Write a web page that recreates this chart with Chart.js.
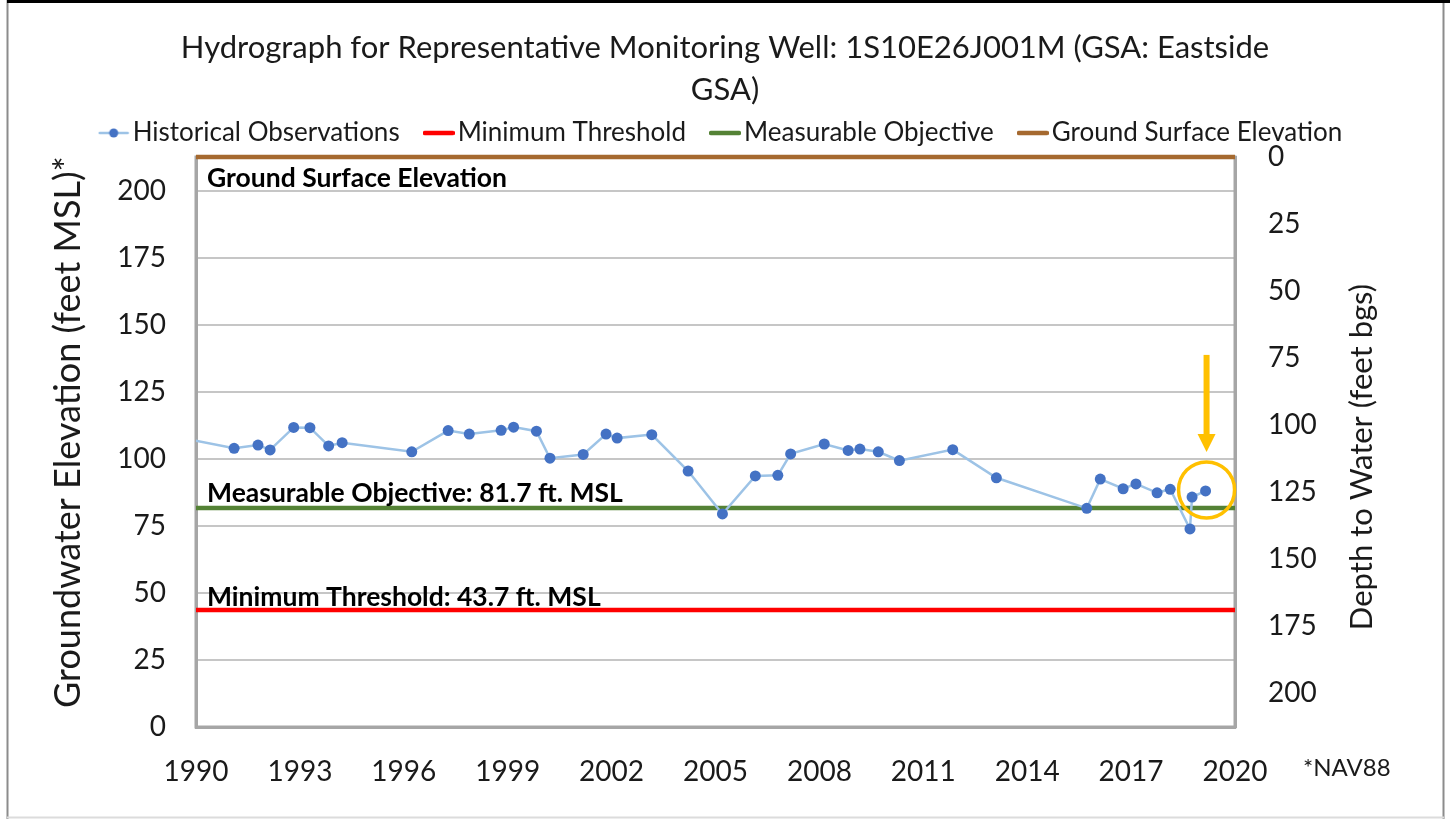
<!DOCTYPE html>
<html><head><meta charset="utf-8">
<script src="https://cdn.jsdelivr.net/npm/chart.js@4.4.1/dist/chart.umd.min.js"></script>
<style>html,body{margin:0;padding:0;background:#fff;}#wrap{width:1450px;height:819px;}</style>
</head><body><div id="wrap"><canvas id="c" width="1450" height="819"></canvas></div>
<script>
const obsYears = [1989.5, 1991.10, 1991.79, 1992.14, 1992.82, 1993.29, 1993.83, 1994.22, 1996.23, 1997.28, 1997.89, 1998.81, 1999.17, 1999.83, 2000.22, 2001.18, 2001.84, 2002.16, 2003.16, 2004.21, 2005.20, 2006.15, 2006.80, 2007.17, 2008.14, 2008.83, 2009.17, 2009.70, 2010.31, 2011.85, 2013.11, 2015.72, 2016.11, 2016.77, 2017.14, 2017.75, 2018.13, 2018.70, 2018.76, 2019.15];
const obsElev = [108.1, 104.0, 105.2, 103.4, 111.8, 111.7, 104.9, 106.1, 102.7, 110.6, 109.3, 110.7, 111.9, 110.4, 100.3, 101.7, 109.3, 107.8, 109.1, 95.5, 79.5, 93.7, 93.9, 101.9, 105.6, 103.2, 103.7, 102.7, 99.4, 103.5, 93.0, 81.6, 92.5, 88.9, 90.7, 87.4, 88.7, 73.9, 85.8, 88.1];
const refYears = [1990, 2020];
const minThreshold = [43.7, 43.7];
const measurableObjective = [81.7, 81.7];
const groundSurface = [212.7, 212.7];
const xTicks = [1990, 1993, 1996, 1999, 2002, 2005, 2008, 2011, 2014, 2017, 2020];
const elevTicks = [0, 25, 50, 75, 100, 125, 150, 175, 200];
const depthTicks = [0, 25, 50, 75, 100, 125, 150, 175, 200];
const seriesNames = ['Historical Observations', 'Minimum Threshold', 'Measurable Objective', 'Ground Surface Elevation'];
const titleLines = ['Hydrograph for Representative Monitoring Well: 1S10E26J001M (GSA: Eastside', 'GSA)'];
const labelGround = 'Ground Surface Elevation';
const labelMO = 'Measurable Objective: 81.7 ft. MSL';
const labelMT = 'Minimum Threshold: 43.7 ft. MSL';
const noteText = '*NAV88';
const leftTitle = 'Groundwater Elevation (feet MSL)*';
const rightTitle = 'Depth to Water (feet bgs)';

const FONT = 'Lato, "Open Sans", sans-serif';
const C_OBS_LINE = '#9DC3E6', C_OBS_PT = '#4472C4', C_MT = '#FF0000', C_MO = '#548235', C_GS = '#A5692F', C_TXT = '#1a1a1a', C_AXIS = '#A6A6A6', C_GRID = '#C6C6C6', C_HL = '#FFC000';

function pts(xs, ys){ return xs.map((x,i)=>({x, y: ys[i]})); }

function icon(color, withDot){
  const cv = document.createElement('canvas'); cv.width = 32; cv.height = 12;
  const g = cv.getContext('2d');
  g.strokeStyle = color; g.lineCap = 'round';
  g.lineWidth = withDot ? 2.5 : 4.5;
  g.beginPath(); g.moveTo(2, 6); g.lineTo(30, 6); g.stroke();
  if (withDot){ g.fillStyle = C_OBS_PT; g.beginPath(); g.arc(16, 6, 4.5, 0, Math.PI*2); g.fill(); }
  return cv;
}
const legendIcons = [icon(C_OBS_LINE, true), icon(C_MT), icon(C_MO), icon(C_GS)];

const legendPad = { id: 'legendPad', beforeUpdate(chart){ const lg = chart.legend; if (lg && !lg.__p){ const f = lg.fit; lg.fit = function(){ f.call(this); this.height += 1; }; lg.__p = true; } } };

const frame = { id: 'frame',
  beforeDraw(chart){ const g = chart.ctx; g.save(); g.fillStyle = '#fff'; g.fillRect(0,0,chart.width,chart.height);
    g.strokeStyle = '#8c8c8c'; g.lineWidth = 2;
    g.beginPath(); g.moveTo(7.5,0); g.lineTo(7.5,819); g.moveTo(1443.5,0); g.lineTo(1443.5,819); g.stroke();
    g.strokeStyle = '#dcdcdc'; g.beginPath(); g.moveTo(7,817.5); g.lineTo(1444,817.5); g.stroke();
    g.strokeStyle = '#000'; g.lineWidth = 3; g.beginPath(); g.moveTo(7,1.5); g.lineTo(1450,1.5); g.stroke();
    g.restore(); },
  beforeDatasetsDraw(chart){ const a = chart.chartArea, g = chart.ctx; g.save(); g.strokeStyle = C_AXIS; g.lineWidth = 3; g.strokeRect(a.left, a.top, a.right-a.left, a.bottom-a.top); g.restore(); },
  afterDatasetsDraw(chart){
    const g = chart.ctx, a = chart.chartArea, xs = chart.scales.x, ys = chart.scales.y;
    g.save(); g.fillStyle = '#000'; g.font = 'bold 26.5px ' + FONT; g.textBaseline = 'alphabetic'; g.textAlign = 'left';
    g.fillText(labelGround, a.left + 11, a.top + 30);
    g.fillText(labelMO, a.left + 11, ys.getPixelForValue(measurableObjective[0]) - 6);
    g.fillText(labelMT, a.left + 11, ys.getPixelForValue(minThreshold[0]) - 4);
    const n = obsYears.length - 1;
    const cx = xs.getPixelForValue(obsYears[n]) + 1, cy = ys.getPixelForValue(obsElev[n]) - 1;
    g.strokeStyle = C_HL; g.lineWidth = 3.5; g.beginPath(); g.arc(cx, cy, 28, 0, Math.PI*2); g.stroke();
    const tip = cy - 38;
    g.fillStyle = C_HL; g.fillRect(cx - 3, tip - 97, 6, 80);
    g.beginPath(); g.moveTo(cx - 9, tip - 18); g.lineTo(cx + 9, tip - 18); g.lineTo(cx, tip); g.closePath(); g.fill();
    g.fillStyle = C_TXT; g.font = '24px ' + FONT; g.textBaseline = 'middle';
    g.fillText(noteText, 1303, 768);
    g.textAlign = 'center';
    g.save(); g.translate(68, 432); g.rotate(-Math.PI/2); g.font = '36px ' + FONT; g.fillText(leftTitle, 0, 0); g.restore();
    g.save(); g.translate(1362, 457); g.rotate(-Math.PI/2); g.font = '31px ' + FONT; g.fillText(rightTitle, 0, 0); g.restore();
    g.restore();
  }
};

new Chart(document.getElementById('c'), {
  type: 'line',
  data: { datasets: [
    { label: seriesNames[0], data: pts(obsYears, obsElev), borderColor: C_OBS_LINE, borderWidth: 2.5, pointRadius: 5.5, pointBackgroundColor: C_OBS_PT, pointBorderColor: C_OBS_PT, pointBorderWidth: 0, tension: 0, yAxisID: 'y' },
    { label: seriesNames[1], data: pts(refYears, minThreshold), borderColor: C_MT, borderWidth: 4.5, pointRadius: 0, yAxisID: 'y', clip: false },
    { label: seriesNames[2], data: pts(refYears, measurableObjective), borderColor: C_MO, borderWidth: 4.5, pointRadius: 0, yAxisID: 'y', clip: false },
    { label: seriesNames[3], data: pts(refYears, groundSurface), borderColor: C_GS, borderWidth: 4.5, pointRadius: 0, yAxisID: 'y', clip: false }
  ]},
  options: {
    responsive: false, animation: false, devicePixelRatio: 1,
    layout: { padding: 0 },
    font: { family: FONT },
    plugins: {
      tooltip: { enabled: false },
      title: { display: true, text: titleLines, color: C_TXT, font: { family: FONT, size: 31, weight: 'normal', lineHeight: 42/31 }, padding: { top: 27, bottom: -24 } },
      legend: { position: 'top', labels: { usePointStyle: true, pointStyleWidth: 12, padding: 33, color: C_TXT, font: { family: FONT, size: 26 },
        generateLabels(chart){ return chart.data.datasets.map((ds,i)=>({ text: ds.label, pointStyle: legendIcons[i], fillStyle: 'transparent', strokeStyle: 'transparent', lineWidth: 0, hidden: false, datasetIndex: i, fontColor: C_TXT })); } } }
    },
    scales: {
      x: { type: 'linear', position: 'bottom', min: 1990, max: 2020,
        afterBuildTicks(s){ s.ticks = xTicks.map(v=>({value: v})); },
        afterFit(s){ s.height = 92; },
        ticks: { color: C_TXT, font: { family: FONT, size: 28 }, padding: 28, maxRotation: 0, autoSkip: false, callback: v => String(v) },
        grid: { display: false, drawTicks: false }, border: { display: true, color: C_AXIS, width: 3 } },
      y: { type: 'linear', position: 'left', min: 0, max: groundSurface[0],
        afterBuildTicks(s){ s.ticks = elevTicks.map(v=>({value: v})); },
        afterFit(s){ s.width = 196; },
        ticks: { color: C_TXT, font: { family: FONT, size: 28 }, padding: 30 },
        grid: { color: C_GRID, lineWidth: 2, drawTicks: false }, border: { display: true, color: C_AXIS, width: 3 } },
      y2: { type: 'linear', position: 'right', reverse: true, min: 0, max: groundSurface[0],
        afterBuildTicks(s){ s.ticks = depthTicks.map(v=>({value: v})); },
        afterFit(s){ s.width = 215; },
        ticks: { color: C_TXT, font: { family: FONT, size: 28 }, padding: 33 },
        grid: { display: false, drawTicks: false }, border: { display: true, color: C_AXIS, width: 3 } }
    }
  },
  plugins: [legendPad, frame]
});
</script></body></html>
